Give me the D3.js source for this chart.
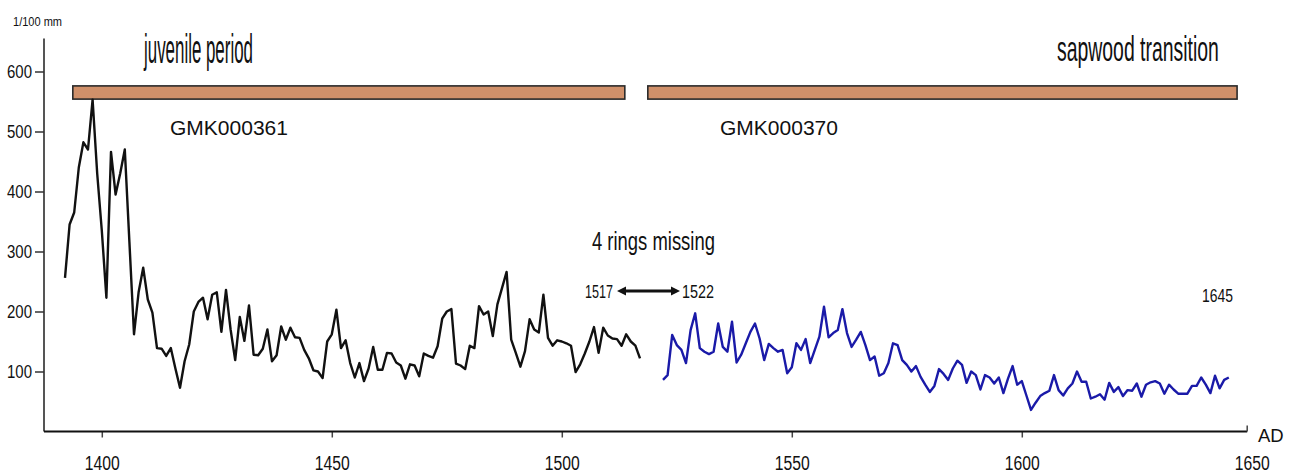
<!DOCTYPE html>
<html lang="en">
<head>
    <meta charset="UTF-8">
    <title>Tree-ring widths GMK000361 / GMK000370</title>
    <script src="https://d3js.org/d3.v7.min.js"></script>
    <style>
        body { margin: 0; background: #fff; }
        text { font-family: "Liberation Sans", Arial, sans-serif; fill: #111; }
    </style>
</head>
<body>
    <svg width="1299" height="475"></svg>

    <script>
        // ring widths, 1/100 mm
        const blackFirstYear = 1392;
        const blackValues = [
            256, 345, 365, 440, 482, 470, 553, 430, 335, 223,
            466, 395, 430, 470, 316, 162, 232, 273, 220, 198,
            139, 138, 126, 139, 105, 73, 117, 145, 200, 216,
            223, 187, 228, 232, 166, 236, 170, 119, 191, 151,
            210, 128, 127, 138, 170, 117, 127, 175, 153, 173,
            157, 156, 136, 122, 102, 100, 89, 150, 162, 203,
            139, 152, 114, 90, 114, 84, 105, 141, 103, 103,
            131, 130, 115, 110, 88, 112, 110, 92, 130, 126,
            123, 142, 188, 200, 204, 113, 110, 104, 143, 139,
            209, 195, 200, 159, 212, 239, 266, 153, 131, 108,
            134, 187, 170, 165, 228, 156, 143, 152, 150, 147,
            143, 99, 112, 130, 150, 174, 131, 173, 160, 155,
            154, 143, 162, 150, 143, 122
        ];
        const blueFirstYear = 1522;
        const blueValues = [
            86, 94, 161, 144, 136, 114, 169, 197, 139, 133,
            129, 133, 180, 141, 133, 183, 115, 128, 147, 166,
            180, 155, 119, 146, 139, 133, 136, 97, 107, 147,
            136, 154, 114, 136, 158, 208, 157, 164, 169, 204,
            164, 141, 153, 166, 144, 119, 125, 93, 97, 114,
            147, 144, 119, 111, 100, 109, 91, 78, 66, 76,
            104, 96, 86, 105, 118, 111, 81, 100, 94, 70,
            94, 90, 80, 90, 64, 88, 109, 78, 84, 60,
            36, 48, 59, 64, 68, 94, 69, 60, 72, 80,
            100, 83, 83, 55, 58, 62, 53, 81, 66, 74,
            59, 69, 68, 80, 58, 78, 82, 84, 80, 63,
            78, 70, 63, 63, 63, 76, 76, 90, 78, 64,
            93, 72, 86, 90
        ];

        const xTicks = [1400, 1450, 1500, 1550, 1600, 1650];
        const yTicks = [100, 200, 300, 400, 500, 600];

        // sample bars (years) drawn near the top
        const barNames = ["GMK000361", "GMK000370"];
        const barStart = [1393.7, 1518.7];
        const barEnd = [1513.7, 1646.8];
        const barLow = 554, barHigh = 576;

        const svg = d3.select("svg");

        const x = d3.scaleLinear().domain([1400, 1650]).range([101.8, 1251.8]);
        const y = d3.scaleLinear().domain([0, 600]).range([431.5, 71.5]);
        const axisLeftX = 44;

        const black = blackValues.map((v, i) => ({ year: blackFirstYear + i, value: v }));
        const blue = blueValues.map((v, i) => ({ year: blueFirstYear + i, value: v }));

        // squeeze a text element horizontally so it is `width` wide
        function squeeze(sel, width) {
            sel.each(function () {
                const w = this.getComputedTextLength();
                const sx = width / w;
                d3.select(this).attr("transform", `scale(${sx},1)`)
                    .attr("x", (+d3.select(this).attr("x") || 0) / sx);
            });
        }

        // y axis
        svg.append("line")
            .attr("x1", axisLeftX).attr("x2", axisLeftX)
            .attr("y1", y(0)).attr("y2", y(655))
            .attr("stroke", "#555").attr("stroke-width", 2);

        const yAxis = svg.append("g")
            .attr("transform", `translate(${axisLeftX},0)`)
            .call(d3.axisLeft(y).tickValues(yTicks).tickFormat(d3.format("d"))
                .tickSize(9).tickPadding(3));
        yAxis.select(".domain").remove();
        yAxis.selectAll(".tick line").attr("stroke", "#333").attr("stroke-width", 1.5);
        yAxis.selectAll(".tick text")
            .attr("font-family", "Liberation Sans, Arial, sans-serif")
            .attr("font-size", 18.5).attr("fill", "#222")
            .call(squeeze, 25);

        // x axis
        const xAxis = svg.append("g")
            .attr("transform", `translate(0,${y(0)})`)
            .call(d3.axisBottom(x).tickValues(xTicks).tickFormat(d3.format("d"))
                .tickSize(6).tickPadding(18).tickSizeOuter(0));
        xAxis.select(".domain").remove();
        xAxis.append("line")
            .attr("x1", axisLeftX).attr("x2", x(1649))
            .attr("stroke", "#111").attr("stroke-width", 2.2);
        xAxis.selectAll(".tick line").attr("stroke", "#444").attr("stroke-width", 1.5)
            .filter(d => d === 1650).attr("y2", 0);
        xAxis.append("line")
            .attr("x1", x(1649)).attr("x2", x(1649))
            .attr("y1", 0).attr("y2", -6)
            .attr("stroke", "#444").attr("stroke-width", 1.5);
        xAxis.selectAll(".tick text")
            .attr("font-family", "Liberation Sans, Arial, sans-serif")
            .attr("font-size", 21).attr("fill", "#222")
            .call(squeeze, 35);

        svg.append("text")
            .attr("x", 1258).attr("y", 441.5)
            .attr("font-size", 18.5)
            .text("AD");

        // sample bars
        svg.selectAll(".bar")
            .data(barStart)
            .enter().append("rect")
            .attr("class", "bar")
            .attr("x", d => x(d))
            .attr("width", (d, i) => x(barEnd[i]) - x(d))
            .attr("y", y(barHigh))
            .attr("height", y(barLow) - y(barHigh))
            .attr("fill", "#d0906a")
            .attr("stroke", "#2a2a2a")
            .attr("stroke-width", 1.6);

        // series
        const line = d3.line().x(d => x(d.year)).y(d => y(d.value));

        svg.append("path")
            .datum(black)
            .attr("fill", "none")
            .attr("stroke", "#111")
            .attr("stroke-width", 2.4)
            .attr("stroke-linejoin", "round")
            .attr("d", line);

        svg.append("path")
            .datum(blue)
            .attr("fill", "none")
            .attr("stroke", "#1a1aa8")
            .attr("stroke-width", 2.4)
            .attr("stroke-linejoin", "round")
            .attr("d", line);

        // narrow labels
        function label(txt, x0, width, baseline, size) {
            const t = svg.append("g")
                .attr("transform", `translate(${x0},${baseline})`)
                .append("text")
                .attr("font-size", size)
                .text(txt);
            t.call(squeeze, width);
        }

        label("1/100 mm", 13, 49, 26, 12);
        label("juvenile period", 144, 109, 63, 40);
        label("sapwood transition", 1057, 162, 61, 36);
        label("4 rings missing", 592, 123, 250, 25);
        label("1517", 585, 28, 298, 19);
        label("1522", 682, 32, 298, 19);
        label("1645", 1202, 31, 302, 19);

        svg.selectAll(".sample")
            .data(barNames)
            .enter().append("g")
            .attr("transform", (d, i) => `translate(${i === 0 ? 170 : 720},135)`)
            .append("text")
            .attr("font-size", 19.5)
            .text(d => d)
            .call(squeeze, 118);

        // double arrow between 1517 and 1522 labels
        const arrowY = 291, ax1 = 617, ax2 = 680, head = 9;
        svg.append("line")
            .attr("x1", ax1 + head - 1).attr("x2", ax2 - head + 1)
            .attr("y1", arrowY).attr("y2", arrowY)
            .attr("stroke", "#111").attr("stroke-width", 3);
        svg.append("path")
            .attr("d", `M${ax1},${arrowY}L${ax1 + head},${arrowY - 4.5}L${ax1 + head},${arrowY + 4.5}Z`)
            .attr("fill", "#111");
        svg.append("path")
            .attr("d", `M${ax2},${arrowY}L${ax2 - head},${arrowY - 4.5}L${ax2 - head},${arrowY + 4.5}Z`)
            .attr("fill", "#111");
    </script>
</body>
</html>
